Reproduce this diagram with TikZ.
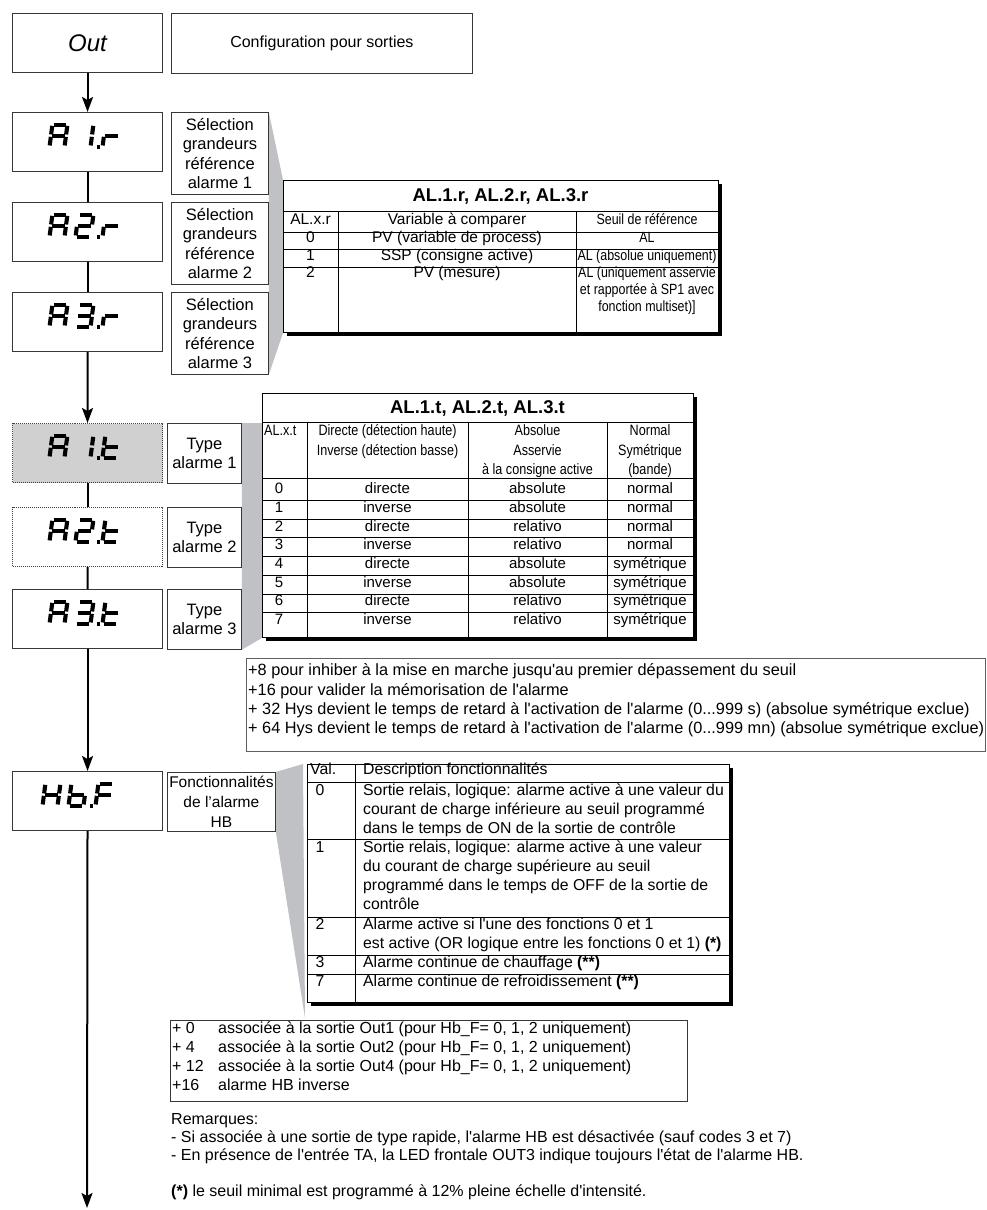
\documentclass[tikz,border=0pt]{standalone}
\usepackage{fontspec}
\newfontfamily\mainsf{Liberation Sans}
\newfontfamily\narrowsf[FakeStretch=0.84]{Liberation Sans}
\usetikzlibrary{arrows.meta,calc,shadows,backgrounds}

\definecolor{wedgegray}{RGB}{192,193,197}
\definecolor{framegray}{RGB}{55,55,55}
\definecolor{notegray}{RGB}{95,95,95}
\definecolor{dispfill}{RGB}{208,208,208}

% seven segment pieces, local frame 15 x 22 (origin bottom left)
\def\sega{(1.2,-22) -- (13.8,-22)}
\def\segb{(15,-20.8) -- (15,-12.2)}
\def\segc{(15,-9.8) -- (15,-1.2)}
\def\segd{(1.2,0) -- (13.8,0)}
\def\sege{(0,-9.8) -- (0,-1.2)}
\def\segf{(0,-20.8) -- (0,-12.2)}
\def\segg{(1.2,-11) -- (13.8,-11)}

\newcommand{\segcell}[2]{%
  \begin{scope}[shift={#1},xslant=0.13]
    \foreach \s in {#2}{\edef\segdo{\noexpand\draw[segline] \csname seg\s\endcsname;}\segdo}
  \end{scope}}

% #1 = horizontal shift, #2 = display node, #3-#5 = segments of the three cells
\newcommand{\dispword}[5][0]{%
  \segcell{($(#2.center)+({-38+#1},4.6)$)}{#3}
  \segcell{($(#2.center)+({-12+#1},4.6)$)}{#4}
  \fill ($(#2.center)+({9+#1},6.6)$) rectangle +(3.8,-3.8);
  \segcell{($(#2.center)+({15+#1},4.6)$)}{#5}}

\tikzset{
  disp/.style={draw=framegray, line width=1.1pt, fill=white, minimum width=150, minimum height=59, anchor=north west, inner sep=0},
  lbl/.style={draw=framegray, line width=0.8pt, fill=white, anchor=north west, align=center, inner sep=0, font=\fontsize{16.5}{19.3}\selectfont},
  tabframe/.style={draw=black, line width=0.9pt, fill=white, anchor=north west, inner sep=0,
    drop shadow={shadow xshift=4pt, shadow yshift=-4pt, opacity=1, fill=black}},
  tabline/.style={line width=0.7pt},
  cellA/.style={anchor=mid, inner sep=0, font=\fontsize{15.5}{17}\selectfont},
  cellN/.style={anchor=mid, inner sep=0, font=\narrowsf\fontsize{14.8}{17}\selectfont},
  cellB/.style={anchor=mid, inner sep=0, font=\narrowsf\fontsize{15}{17}\selectfont},
  cellC/.style={anchor=mid, inner sep=0, font=\fontsize{15}{17}\selectfont},
  cellD/.style={anchor=mid, inner sep=0, font=\fontsize{15.8}{19}\selectfont},
  txt/.style={anchor=mid west, inner sep=0, font=\fontsize{16}{19}\selectfont},
  segline/.style={line width=4.1pt},
  flow/.style={line width=2pt, -{Stealth[length=15pt, width=11pt, inset=3pt]}},
  link/.style={line width=2pt}
}

\begin{document}
\mainsf
\begin{tikzpicture}[x=1pt, y=-1pt]
\useasboundingbox (0,0) rectangle (987,1210);

% left column of displays
\node[disp, font=\itshape\fontsize{24}{28}\selectfont] (out) at (12,13) {Out};
\node[lbl, minimum width=301, minimum height=60, font=\fontsize{16}{19}\selectfont] (cfg) at (171,13) {Configuration pour sorties};

\foreach \n/\y in {1/112, 2/202, 3/292} {
  \node[disp] (a\n r) at (12,\y) {};
  \node[lbl, minimum width=97, minimum height=82] (l\n r) at (171,\y) {Sélection\\grandeurs\\référence\\alarme \n};
}

\node[disp, fill=dispfill, draw=black!75, line width=1pt, densely dotted] (a1t) at (12,423) {};
\node[disp, draw=black!75, line width=1pt, densely dotted] (a2t) at (12,507) {};
\node[disp] (a3t) at (12,589) {};
\foreach \n/\y in {1/423, 2/507, 3/589}
  \node[lbl, minimum width=74, minimum height=60] (l\n t) at (167,\y) {Type\\alarme \n};

\node[disp] (hbf) at (12,771) {};
\node[lbl, minimum width=108, minimum height=59, font=\fontsize{15.5}{20}\selectfont] (lhb) at (167,772) {Fonctionnalités\\de l’alarme\\HB};

% seven segment words
\dispword{a1r}{a,b,c,e,f,g}{b,c}{e,g}
\dispword{a2r}{a,b,c,e,f,g}{a,b,d,e,g}{e,g}
\dispword{a3r}{a,b,c,e,f,g}{a,b,c,d,g}{e,g}
\dispword{a1t}{a,b,c,e,f,g}{b,c}{d,e,f,g}
\dispword{a2t}{a,b,c,e,f,g}{a,b,d,e,g}{d,e,f,g}
\dispword{a3t}{a,b,c,e,f,g}{a,b,c,d,g}{d,e,f,g}
\dispword[-7]{hbf}{b,c,e,f,g}{c,d,e,f,g}{a,e,f,g}

% flow
\coordinate (flowend) at (87,1208);
\draw[flow] (out) -- (a1r);
\draw[link] (a1r) -- (a2r);
\draw[link] (a2r) -- (a3r);
\draw[flow] (a3r) -- (a1t);
\draw[link] (a1t) -- (a2t);
\draw[link] (a2t) -- (a3t);
\draw[flow] (a3t) -- (hbf);
\draw[flow] (hbf) -- (flowend);

% table AL.x.r
\node[tabframe, minimum width=435, minimum height=152] (tab1) at (283,180) {};
\node[font=\bfseries\fontsize{18.5}{22}\selectfont] (t1title) at (500.5,196) {AL.1.r, AL.2.r, AL.3.r};
\foreach \y in {211,232,249,267} \draw[tabline] (283,\y) -- (718,\y);
\foreach \x in {338,576} \draw[tabline] (\x,211) -- (\x,332);
\foreach \y/\ca/\cb/\cc [count=\i] in {222/AL.x.r/Variable à comparer/Seuil de référence,
    240/0/PV (variable de process)/AL, 257.5/1/SSP (consigne active)/AL (absolue uniquement),
    275/2/PV (mesure)/AL (uniquement asservie} {
  \node[cellA] (t1a\i) at (310.5,\y) {\ca};
  \node[cellA] (t1b\i) at (457,\y) {\cb};
  \node[cellN] (t1c\i) at (647,\y) {\cc};
}
\node[cellN] (t1c5) at (647,292) {et rapportée à SP1 avec};
\node[cellN] (t1c6) at (647,309) {fonction multiset)]};

% table AL.x.t
\node[tabframe, minimum width=431, minimum height=244] (tab2) at (262,393) {};
\node[font=\bfseries\fontsize{18.5}{22}\selectfont] (t2title) at (477.5,408) {AL.1.t, AL.2.t, AL.3.t};
\foreach \y in {422,478} \draw[tabline] (262,\y) -- (693,\y);
\foreach \k in {0,...,6} \draw[tabline] (262,{500.35+18.7*\k}) -- (693,{500.35+18.7*\k});
\foreach \x in {307,468,607} \draw[tabline] (\x,422) -- (\x,637);
\node[cellB, anchor=mid west] (t2h0) at (264,433) {AL.x.t};
\node[cellB] (t2h1) at (387.5,433) {Directe (détection haute)};
\node[cellB] (t2h2) at (387.5,453) {Inverse (détection basse)};
\node[cellB] (t2h3) at (537.5,433) {Absolue};
\node[cellB] (t2h4) at (537.5,453) {Asservie};
\node[cellB] (t2h5) at (537.5,472) {à la consigne active};
\node[cellB] (t2h6) at (650,433) {Normal};
\node[cellB] (t2h7) at (650,453) {Symétrique};
\node[cellB] (t2h8) at (650,472) {(bande)};
\foreach \a/\b/\c [count=\i from 0] in {directe/absolute/normal, inverse/absolute/normal,
    directe/relativo/normal, inverse/relativo/normal, directe/absolute/symétrique,
    inverse/absolute/symétrique, directe/relativo/symétrique, inverse/relativo/symétrique} {
  \node[cellC] (t2n\i) at (279,{491+18.7*\i}) {\i};
  \node[cellC] (t2a\i) at (387.5,{491+18.7*\i}) {\a};
  \node[cellC] (t2b\i) at (537.5,{491+18.7*\i}) {\b};
  \node[cellC] (t2c\i) at (650,{491+18.7*\i}) {\c};
}

% options added to AL.x.t
\node[draw=notegray, line width=0.8pt, anchor=north west, minimum width=739, minimum height=93, inner sep=0] (note) at (246,658) {};
\node[txt, font=\fontsize{16.3}{19}\selectfont] (note1) at (248,673) {+8 pour inhiber à la mise en marche jusqu'au premier dépassement du seuil};
\node[txt, font=\fontsize{16.3}{19}\selectfont] (note2) at (248,693) {+16 pour valider la mémorisation de l'alarme};
\node[txt, font=\fontsize{16.3}{19}\selectfont] (note3) at (248,712) {+ 32 Hys devient le temps de retard à l'activation de l'alarme (0...999 s) (absolue symétrique exclue)};
\node[txt, font=\fontsize{16.3}{19}\selectfont] (note4) at (248,731) {+ 64 Hys devient le temps de retard à l'activation de l'alarme (0...999 mn) (absolue symétrique exclue)};

% table Hb.F
\node[tabframe, minimum width=422, minimum height=238] (tab3) at (307,764) {};
\foreach \y in {782,839,917,955,974} \draw[tabline] (307,\y) -- (729,\y);
\draw[tabline] (355,764) -- (355,1002);
\node[cellD, anchor=mid west] (t3h0) at (310,772) {Val.};
\node[cellD, anchor=mid west] (t3h1) at (363,772) {Description fonctionnalités};
\foreach \v/\y in {0/793, 1/850, 2/927, 3/965, 7/984}
  \node[cellD] (t3v\v) at (320,\y) {\v};
\foreach \y/\t [count=\i] in {793/{Sortie relais, logique: alarme active à une valeur du},
    812/courant de charge inférieure au seuil programmé,
    831/dans le temps de ON de la sortie de contrôle,
    850/{Sortie relais, logique: alarme active à une valeur},
    869/du courant de charge supérieure au seuil,
    888/programmé dans le temps de OFF de la sortie de,
    907/contrôle,
    927/Alarme active si l'une des fonctions 0 et 1,
    946/est active (OR logique entre les fonctions 0 et 1) \textbf{(*)},
    965/Alarme continue de chauffage \textbf{(**)},
    984/Alarme continue de refroidissement \textbf{(**)}}
  \node[cellD, anchor=mid west] (t3d\i) at (363,\y) {\t};

% output assignment
\node[draw=framegray, line width=0.8pt, anchor=north west, minimum width=517, minimum height=81, inner sep=0] (hbsel) at (170,1020) {};
\foreach \y/\a/\b [count=\i] in {1031/+ 0/{associée à la sortie Out1 (pour Hb\_F= 0, 1, 2 uniquement)},
    1050/+ 4/{associée à la sortie Out2 (pour Hb\_F= 0, 1, 2 uniquement)},
    1069/+ 12/{associée à la sortie Out4 (pour Hb\_F= 0, 1, 2 uniquement)},
    1088/+16/alarme HB inverse} {
  \node[txt] (sa\i) at (172,\y) {\a};
  \node[txt] (sb\i) at (218,\y) {\b};
}

% remarks
\node[txt] (rem0) at (171,1122) {Remarques:};
\node[txt] (rem1) at (171,1140) {- Si associée à une sortie de type rapide, l'alarme HB est désactivée (sauf codes 3 et 7)};
\node[txt] (rem2) at (171,1158) {- En présence de l'entrée TA, la LED frontale OUT3 indique toujours l'état de l'alarme HB.};
\node[txt] (rem3) at (171,1194) {\textbf{(*)} le seuil minimal est programmé à 12\% pleine échelle d'intensité.};

% grey call-out wedges
\begin{scope}[on background layer]
  \fill[wedgegray] (l1r.north east) -- (tab1.north west) -- (tab1.south west) -- (l3r.south east) -- cycle;
  \fill[wedgegray] (l1t.north east) -- (l1t.north east -| tab2.west) -- (tab2.south west) -- (l3t.south east) -- cycle;
  \fill[wedgegray] (lhb.north east) -- ($(tab3.north west)+(-4,0)$) -- ($(tab3.south west)+(-2,15)$) -- (lhb.south east) -- cycle;
\end{scope}
\end{tikzpicture}
\end{document}
